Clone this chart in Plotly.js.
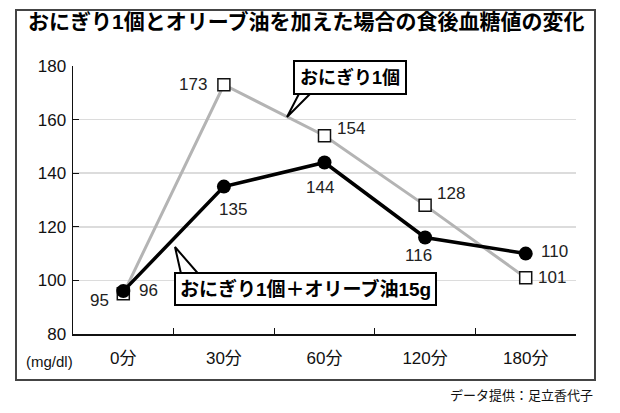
<!DOCTYPE html>
<html>
<head>
<meta charset="utf-8">
<script src="https://cdn.plot.ly/plotly-3.0.1.min.js"></script>
<style>html,body{margin:0;padding:0;background:#fff;}#chart{width:620px;height:413px;}</style>
</head>
<body>
<div id="chart"></div>
<script>
// ---- data ----
const categories = ['0分', '30分', '60分', '120分', '180分'];
const onigiri = [95, 173, 154, 128, 101];
const onigiriOlive = [96, 135, 144, 116, 110];
const yTicks = [80, 100, 120, 140, 160, 180];
const seriesNames = ['おにぎり1個', 'おにぎり1個＋オリーブ油15g'];
const titleText = 'おにぎり1個とオリーブ油を加えた場合の食後血糖値の変化';
const unitText = '(mg/dl)';
const sourceText = 'データ提供：足立香代子';
const refLine = 140;

// ---- label offsets (style) ----
const offOnigiri = [[-24, -7], [-31, 0], [26, 7], [26, 12], [26, 0]];
const offOlive = [[25, 1], [9, -23], [-5, -25], [-7, -18], [29, 2]];

const JP = '"Liberation Sans", Arial, "Noto Sans CJK JP", sans-serif';

// pixel -> paper helpers (plot area: x 73..576, y 66..334)
const L = 73, R = 44, T = 66, B = 79, W = 620, H = 413;
const pw = W - L - R, ph = H - T - B;
const px = v => (v - L) / pw;
const py = v => (H - B - v) / ph;

const traces = [
  {
    x: categories, y: onigiri, type: 'scatter', mode: 'lines+markers', name: seriesNames[0],
    line: {color: '#b4b4b4', width: 3},
    marker: {symbol: 'square', size: 12, color: '#fff', line: {color: '#111', width: 1.5}},
    cliponaxis: false
  },
  {
    x: categories, y: onigiriOlive, type: 'scatter', mode: 'lines+markers', name: seriesNames[1],
    line: {color: '#000', width: 3.5},
    marker: {symbol: 'circle', size: 14, color: '#000'},
    cliponaxis: false
  }
];

const annotations = [];
function addLabels(vals, offs) {
  vals.forEach((v, i) => {
    annotations.push({
      x: categories[i], y: v, xref: 'x', yref: 'y', text: String(v), showarrow: false,
      xshift: offs[i][0], yshift: offs[i][1],
      font: {family: JP, size: 17, color: '#222'}
    });
  });
}
addLabels(onigiri, offOnigiri);
addLabels(onigiriOlive, offOlive);

// callout boxes
annotations.push({
  xref: 'paper', yref: 'paper', x: px(350), y: py(77.5), xanchor: 'center', yanchor: 'middle',
  text: '<b>' + seriesNames[0] + '</b>', showarrow: false,
  font: {family: JP, size: 18, color: '#000'},
  bgcolor: '#fff', bordercolor: '#000', borderwidth: 2, borderpad: 5
});
annotations.push({
  xref: 'paper', yref: 'paper', x: px(305.5), y: py(288.5), xanchor: 'center', yanchor: 'middle',
  text: '<b>' + seriesNames[1] + '</b>', showarrow: false,
  font: {family: JP, size: 19, color: '#000'},
  bgcolor: '#fff', bordercolor: '#000', borderwidth: 2, borderpad: 4
});
// unit label
annotations.push({
  xref: 'paper', yref: 'paper', x: px(49.5), y: py(361), xanchor: 'center', yanchor: 'middle',
  text: unitText, showarrow: false, font: {family: JP, size: 15, color: '#111'}
});
// source
annotations.push({
  xref: 'paper', yref: 'paper', x: px(595), y: py(395), xanchor: 'right', yanchor: 'middle',
  text: sourceText, showarrow: false, font: {family: JP, size: 13, color: '#111'}
});

const tri = (a, b, c) => `M ${px(a[0])} ${py(a[1])} L ${px(b[0])} ${py(b[1])} L ${px(c[0])} ${py(c[1])} Z`;

const shapes = [
  // outer frame
  {type: 'rect', xref: 'paper', yref: 'paper', x0: px(16), x1: px(595), y0: py(380), y1: py(10),
   line: {color: '#444', width: 2}, layer: 'below'},
  // reference dashed line
  {type: 'line', xref: 'paper', yref: 'y', x0: 0, x1: 1, y0: refLine, y1: refLine,
   line: {color: '#222', width: 1.2, dash: 'dash'}, layer: 'below'},
  // callout pointers
  {type: 'path', xref: 'paper', yref: 'paper', path: tri([302, 88], [316, 88], [287, 117]),
   fillcolor: '#fff', line: {color: '#000', width: 2}, layer: 'above'},
  {type: 'path', xref: 'paper', yref: 'paper', path: tri([182, 278], [202, 278], [175, 247]),
   fillcolor: '#fff', line: {color: '#000', width: 2}, layer: 'above'}
];

const layout = {
  width: W, height: H,
  margin: {l: L, r: R, t: T, b: B},
  paper_bgcolor: '#fff', plot_bgcolor: '#fff',
  showlegend: false,
  title: {
    text: '<b>' + titleText + '</b>', xref: 'container', yref: 'container',
    x: 28 / W, xanchor: 'left', y: 1 - 22 / H, yanchor: 'middle',
    font: {family: JP, size: 21, color: '#000'}
  },
  xaxis: {
    type: 'category', range: [-0.5, 4.5], showline: true, linecolor: '#111', linewidth: 1.5,
    ticks: 'inside', ticklen: 6, tickcolor: '#111', tickwidth: 1.2, tickson: 'boundaries',
    showgrid: false, zeroline: false, fixedrange: true,
    tickfont: {family: JP, size: 17, color: '#111'}, ticklabelstandoff: 8
  },
  yaxis: {
    range: [80, 180], tickvals: yTicks, showline: true, linecolor: '#111', linewidth: 1.5,
    ticks: 'inside', ticklen: 6, tickcolor: '#111', tickwidth: 1.2,
    showgrid: true, gridcolor: '#dcdcdc', gridwidth: 1.5, zeroline: false, fixedrange: true,
    tickfont: {family: JP, size: 17, color: '#111'}, ticklabelstandoff: 2
  },
  annotations: annotations,
  shapes: shapes
};

Plotly.newPlot('chart', traces, layout, {displayModeBar: false, staticPlot: true});
</script>
</body>
</html>
